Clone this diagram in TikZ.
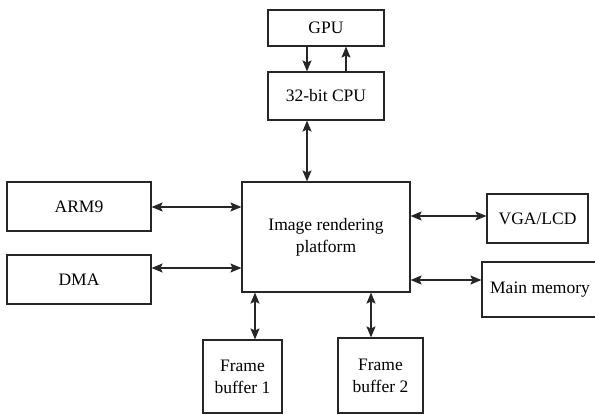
\documentclass[tikz,border=0pt]{standalone}
\usepackage{fontspec}
\setmainfont{Liberation Serif}
\usetikzlibrary{arrows.meta}
\begin{document}
\begin{tikzpicture}[x=1pt,y=-1pt,
  box/.style={draw=black!85, line width=1.1pt, rectangle, inner sep=0pt, align=center, font=\fontsize{17.5}{22}\selectfont},
  arr/.style={line width=1.2pt, draw=black!85, -{Stealth[length=11pt,width=9pt,inset=2pt]}},
  darr/.style={line width=1.2pt, draw=black!85, {Stealth[length=11pt,width=9pt,inset=2pt]}-{Stealth[length=11pt,width=9pt,inset=2pt]}}]
\useasboundingbox (0,0) rectangle (595,415);
\node[box, minimum width=116pt, minimum height=36pt] (gpu) at (326,28) {GPU};
\node[box, minimum width=116pt, minimum height=48pt] (cpu) at (326,96) {32-bit CPU};
\node[box, minimum width=168pt, minimum height=110pt] (main) at (326,237) {Image rendering\\platform};
\node[box, minimum width=144pt, minimum height=49pt] (arm) at (79,206.5) {ARM9};
\node[box, minimum width=144pt, minimum height=49pt] (dma) at (79,279.5) {DMA};
\node[box, minimum width=101pt, minimum height=49pt] (vga) at (537.5,218.5) {VGA/LCD};
\node[box, minimum width=116pt, minimum height=55pt] (mem) at (540,289.5) {Main memory};
\node[box, minimum width=79pt, minimum height=73pt] (fb1) at (242.5,376.5) {Frame\\buffer 1};
\node[box, minimum width=85pt, minimum height=75pt] (fb2) at (380.5,375.5) {Frame\\buffer 2};
\coordinate (xa) at (307,0);
\coordinate (xb) at (346,0);
\coordinate (xf1) at (255,0);
\coordinate (xf2) at (371,0);
\coordinate (ya) at (0,207);
\coordinate (yd) at (0,268);
\coordinate (yv) at (0,216);
\coordinate (ym) at (0,280);
\draw[arr] (gpu.south -| xa) -- (cpu.north -| xa);
\draw[arr] (cpu.north -| xb) -- (gpu.south -| xb);
\draw[darr] (cpu.south -| xa) -- (main.north -| xa);
\draw[darr] (arm.east |- ya) -- (main.west |- ya);
\draw[darr] (dma.east |- yd) -- (main.west |- yd);
\draw[darr] (main.east |- yv) -- (vga.west |- yv);
\draw[darr] (main.east |- ym) -- (mem.west |- ym);
\draw[darr] (main.south -| xf1) -- (fb1.north -| xf1);
\draw[darr] (main.south -| xf2) -- (fb2.north -| xf2);
\end{tikzpicture}
\end{document}
